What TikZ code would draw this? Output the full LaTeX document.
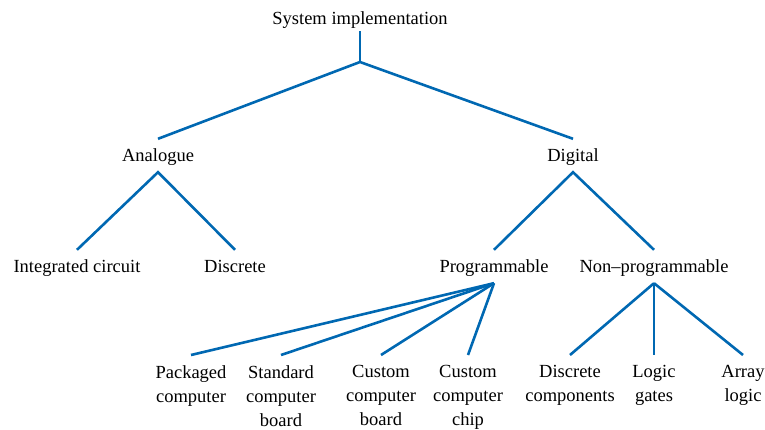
\documentclass[tikz,border=0pt]{standalone}
\usepackage{fontspec}
\setmainfont{Liberation Serif}
\definecolor{treeblue}{RGB}{0,104,178}

\begin{document}
\begin{tikzpicture}[x = 1pt, y = -1pt, font = \fontsize{18.5}{24}\selectfont,
  lbl/.style = {anchor = base, inner xsep = 0pt, inner ysep = 7pt, text height = 15pt, text depth = 4pt},
  leaf/.style = {anchor = north, align = center, inner xsep = 0pt, inner ysep = 10pt},
  link/.style = {treeblue, line width = 2.6pt}]
\useasboundingbox (0,0) rectangle (765,429);
% top levels
\node[lbl, inner ysep = 3pt] (sys) at (360,24) {System implementation};
\coordinate (fork) at (360,62);
\node[lbl] (ana) at (158,161) {Analogue};
\node[lbl] (dig) at (573,161) {Digital};
\node[lbl] (ic) at (77,272) {Integrated circuit};
\node[lbl] (disc) at (235,272) {Discrete};
\node[lbl] (prog) at (494,272) {Programmable};
\node[lbl] (nonprog) at (654,272) {Non--programmable};
% leaves
\node[leaf] (pack) at (191,355) {Packaged\\computer};
\node[leaf] (std) at (281,355) {Standard\\computer\\board};
\node[leaf] (cboard) at (381,355) {Custom\\computer\\board};
\node[leaf] (cchip) at (468,355) {Custom\\computer\\chip};
\node[leaf] (dcomp) at (570,355) {Discrete\\components};
\node[leaf] (gates) at (654,355) {Logic\\gates};
\node[leaf] (array) at (743,355) {Array\\logic};
% connectors
\draw[link] (sys.south) -- (fork);
\draw[link] (ana.north) -- (fork) -- (dig.north);
\draw[link] (ic.north) -- (ana.south) -- (disc.north);
\draw[link] (prog.north) -- (dig.south) -- (nonprog.north);
\foreach \n in {pack, std, cboard, cchip} \draw[link] (prog.south) -- (\n.north);
\foreach \n in {dcomp, gates, array} \draw[link] (nonprog.south) -- (\n.north);
\end{tikzpicture}
\end{document}
